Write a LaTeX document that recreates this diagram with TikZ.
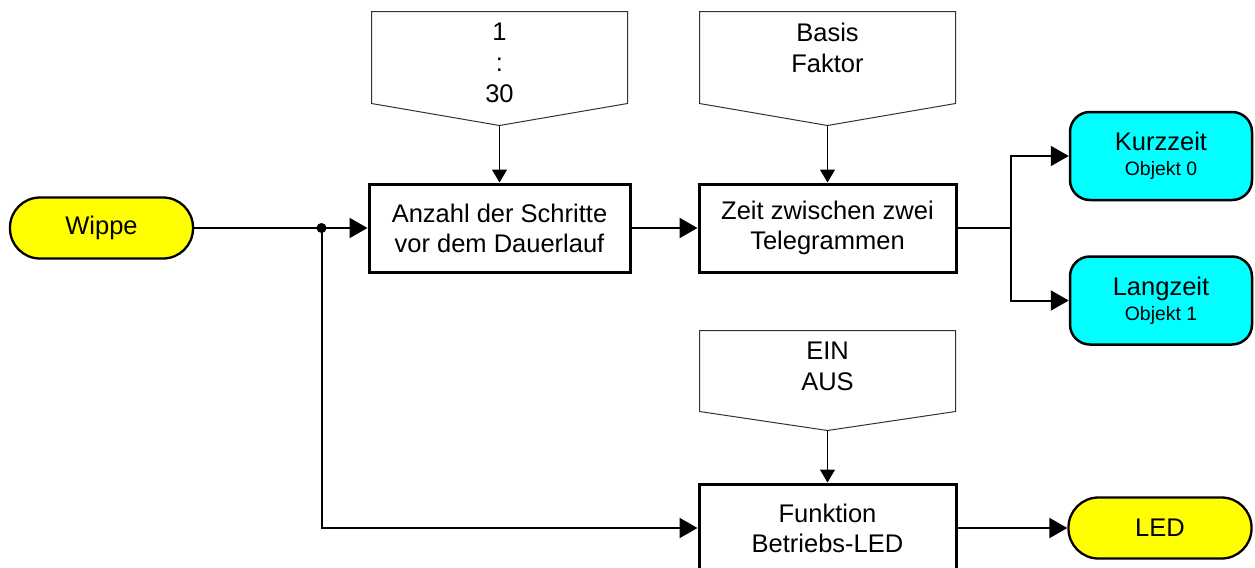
\documentclass[tikz,border=0pt]{standalone}
\usepackage{fontspec}
\setmainfont{Liberation Sans}
\usepackage{tikz}
\usetikzlibrary{shapes, shapes.misc}
\usetikzlibrary{arrows, arrows.meta}
\definecolor{wippeyellow}{RGB}{255,255,0}
\definecolor{objektcyan}{RGB}{0,255,255}

\begin{document}
\begin{tikzpicture}
\tikzstyle{block} = [draw, line width=1.5pt, minimum height=44pt, minimum width=128.5pt, fill=white, rectangle, align=center, font={\fontsize{12.75}{15}\selectfont}]
\tikzstyle{terminal} = [draw, line width=1.15pt, rectangle, rounded corners=15pt, minimum height=30.5pt, minimum width=91.5pt, fill=wippeyellow, font={\fontsize{12.75}{15}\selectfont}]
\tikzstyle{output} = [draw, line width=1.25pt, rectangle, rounded corners=10pt, minimum height=44pt, minimum width=91pt, fill=objektcyan, align=center, font={\fontsize{12.75}{15}\selectfont}]
\tikzstyle{param} = [anchor=north, inner sep=5.5pt, align=center, font={\fontsize{12.75}{15.5}\selectfont}]
\tikzstyle{outline} = [draw=black!80, line width=0.5pt]
\tikzstyle{flow} = [line width=1pt, -{Triangle[length=9pt, width=10pt]}]
\tikzstyle{setting} = [line width=0.5pt, -{Triangle[length=6.5pt, width=7.5pt]}]

\useasboundingbox (0,0) rectangle (627.5pt,-284pt);

%main chain
\node [terminal, name = wippe] at (50.75pt,-114pt) {Wippe};
\node [block, name = anzahl, right of = wippe, node distance = 199pt, minimum width = 130.5pt]{Anzahl der Schritte\\vor dem Dauerlauf};
\node [block, name = zeit, right of = anzahl, node distance = 164pt]{Zeit zwischen zwei\\Telegrammen};
\node [block, name = funktion, below of = zeit, node distance = 150pt]{Funktion\\Betriebs-LED};

%%outputs
\node [output, name = kurzzeit, right of = zeit, node distance = 166.75pt, yshift = 36pt]{Kurzzeit\\[-2.5pt]{\fontsize{9.7}{11}\selectfont Objekt 0}};
\node [output, name = langzeit, right of = zeit, node distance = 166.75pt, yshift = -36.25pt]{Langzeit\\[-2.5pt]{\fontsize{9.7}{11}\selectfont Objekt 1}};
\node [terminal, name = led, right of = funktion, node distance = 166.25pt]{LED};

%%parameters
\node (ratio)[param] at ([yshift = 85.5pt]anzahl.north) {1\\:\\30};
\node (basis)[param] at ([yshift = 85.5pt]zeit.north) {Basis\\Faktor};
\node (einaus)[param] at ([yshift = 76pt]funktion.north) {EIN\\AUS};

\coordinate (ratiotip) at ([yshift = -57pt]ratio.north);
\coordinate (basistip) at ([yshift = -57pt]basis.north);
\coordinate (einaustip) at ([yshift = -50pt]einaus.north);

\draw [outline] ([xshift = -64pt]ratio.north) -- ([xshift = 64pt]ratio.north) -- ([xshift = 64pt, yshift = -46pt]ratio.north) -- (ratiotip) -- ([xshift = -64pt, yshift = -46pt]ratio.north) -- cycle;
\draw [outline] ([xshift = -64pt]basis.north) -- ([xshift = 64pt]basis.north) -- ([xshift = 64pt, yshift = -46pt]basis.north) -- (basistip) -- ([xshift = -64pt, yshift = -46pt]basis.north) -- cycle;
\draw [outline] ([xshift = -64pt]einaus.north) -- ([xshift = 64pt]einaus.north) -- ([xshift = 64pt, yshift = -40.5pt]einaus.north) -- (einaustip) -- ([xshift = -64pt, yshift = -40.5pt]einaus.north) -- cycle;

\draw [setting] (ratiotip) -- (ratiotip |- anzahl.north);
\draw [setting] (basistip) -- (basistip |- zeit.north);
\draw [setting] (einaustip) -- (einaustip |- funktion.north);

%connections
\coordinate (split) at ([xshift = -23pt]anzahl.west);
\coordinate (branch) at ([xshift = 26.5pt]zeit.east);
\draw [flow] (wippe) -- (anzahl);
\fill (split) circle (2.5pt);
\draw [flow] (split) |- (funktion);
\draw [flow] (anzahl) -- (zeit);
\draw [line width = 1pt] (zeit) -- (branch);
\draw [flow] (branch) |- (kurzzeit);
\draw [flow] (branch) |- (langzeit);
\draw [flow] (funktion) -- (led);

\end{tikzpicture}
\end{document}
